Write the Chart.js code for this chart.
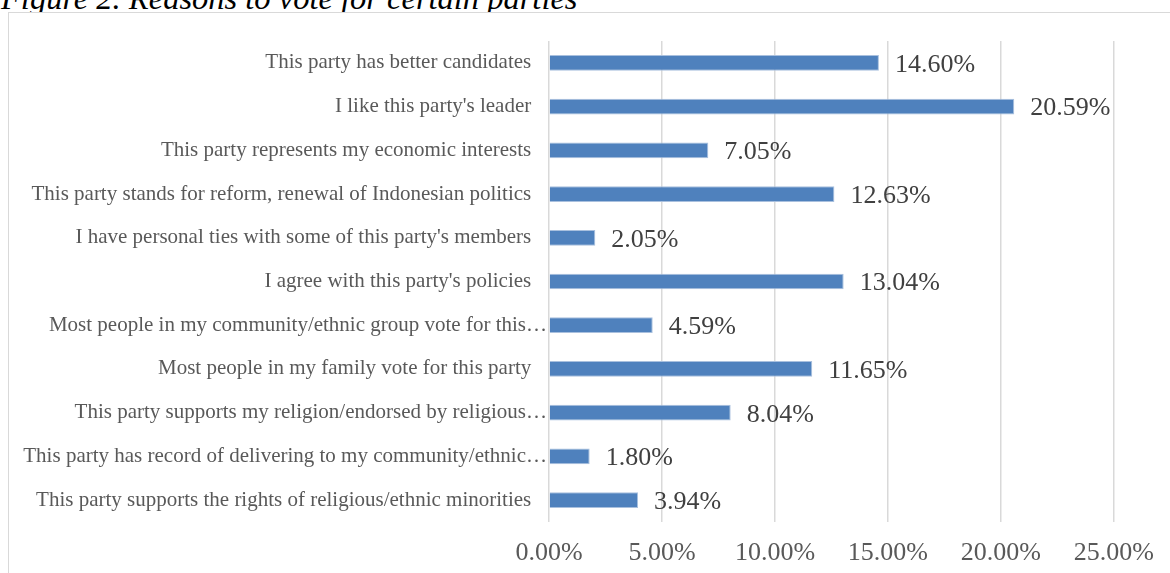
<!DOCTYPE html>
<html>
<head>
<meta charset="utf-8">
<script src="https://cdn.jsdelivr.net/npm/chart.js@4"></script>
<style>
  html, body { margin: 0; padding: 0; background: #fff; overflow: hidden; }
  #wrap { position: relative; width: 1170px; height: 573px; }
  #title {
    position: absolute; left: 1px; top: -20px; margin: 0; line-height: 32px;
    font: italic 32.5px "Liberation Serif", serif; color: #000; white-space: nowrap;
  }
  #box {
    position: absolute; left: 8px; top: 12px; width: 1200px; height: 600px;
    border: 1.5px solid #d9d9d9; box-sizing: border-box; background: #fff;
  }
  canvas { position: absolute; left: 0; top: 0; }
</style>
</head>
<body>
<div id="wrap">
  <p id="title">Figure 2. Reasons to vote for certain parties</p>
  <div id="box"></div>
  <canvas id="grafico" width="1170" height="573"></canvas>
</div>
<script>
  // categorias e valores (%)
  const categorias = [
    "This party has better candidates",
    "I like this party's leader",
    "This party represents my economic interests",
    "This party stands for reform, renewal of Indonesian politics",
    "I have personal ties with some of this party's members",
    "I agree with this party's policies",
    "Most people in my community/ethnic group vote for this…",
    "Most people in my family vote for this party",
    "This party supports my religion/endorsed by religious…",
    "This party has record of delivering to my community/ethnic…",
    "This party supports the rights of religious/ethnic minorities",
  ];
  const valores = [14.60, 20.59, 7.05, 12.63, 2.05, 13.04, 4.59, 11.65, 8.04, 1.80, 3.94];
  const ticksX = [0, 5, 10, 15, 20, 25];

  // rótulos de dados no fim das barras
  const rotulosPlugin = {
    id: "rotulos",
    afterDatasetsDraw(chart) {
      const ctx = chart.ctx;
      const meta = chart.getDatasetMeta(0);
      ctx.save();
      ctx.font = '26px "Liberation Serif", serif';
      ctx.fillStyle = "#404040";
      ctx.textAlign = "left";
      ctx.textBaseline = "middle";
      meta.data.forEach((bar, i) => {
        ctx.fillText(valores[i].toFixed(2) + "%", bar.x + 16, bar.y + 2);
      });
      ctx.restore();
    },
  };

  new Chart(document.getElementById("grafico"), {
    type: "bar",
    data: {
      labels: categorias,
      datasets: [{
        data: valores,
        backgroundColor: "#4F81BD",
        borderColor: "#A9C0DE",
        borderWidth: 1,
        categoryPercentage: 1,
        barPercentage: 0.36,
      }],
    },
    options: {
      indexAxis: "y",
      responsive: false,
      animation: false,
      layout: { padding: { left: 8, right: 54, top: 41, bottom: 0 } },
      plugins: { legend: { display: false }, tooltip: { enabled: false } },
      scales: {
        x: {
          min: 0,
          max: 25,
          afterBuildTicks: (s) => { s.ticks = ticksX.map((v) => ({ value: v })); },
          afterFit: (s) => { s.height = 51; },
          grid: { color: "#d9d9d9", lineWidth: 1.5, drawTicks: false },
          border: { display: false },
          ticks: {
            padding: 16,
            color: "#595959",
            font: { family: "Liberation Serif", size: 26 },
            callback: (v) => Number(v).toFixed(2) + "%",
          },
        },
        y: {
          afterFit: (s) => { s.width = 541; },
          grid: { display: false },
          border: { display: false },
          ticks: {
            padding: -6,
            color: "#595959",
            font: { family: "Liberation Serif", size: 21 },
            callback: (v, i) => {
              const t = categorias[i];
              return t.endsWith("…") ? t : t + "\u2002\u2005";
            },
          },
        },
      },
    },
    plugins: [rotulosPlugin],
  });
</script>
</body>
</html>
